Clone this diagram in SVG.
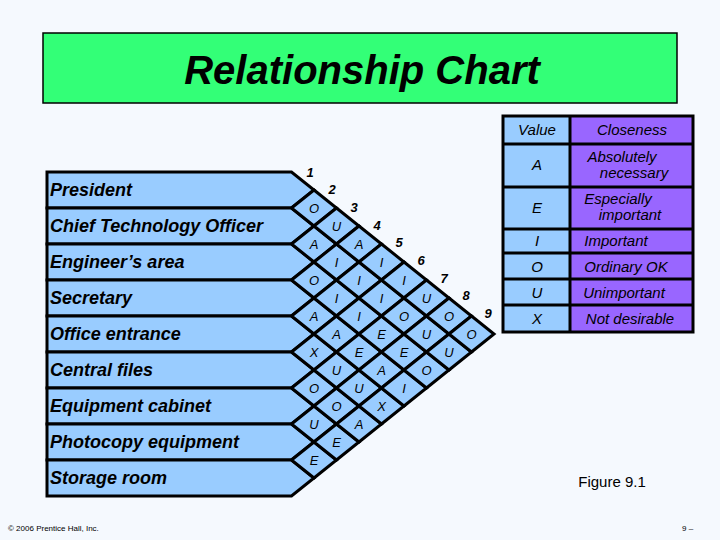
<svg xmlns="http://www.w3.org/2000/svg" width="720" height="540" viewBox="0 0 720 540">
<style>
.row{fill:#99ccff;stroke:#000;stroke-width:3;stroke-linejoin:miter}
.dm{fill:#99ccff;stroke:#000;stroke-width:3}
.rt{font-family:"Liberation Sans",Arial,sans-serif;font-weight:bold;font-style:italic;font-size:18px;fill:#000}
.lt{font-family:"Liberation Sans",Arial,sans-serif;font-style:italic;font-size:13px;fill:#000;text-anchor:middle}
.nt{font-family:"Liberation Sans",Arial,sans-serif;font-style:italic;font-weight:bold;font-size:13px;fill:#000;text-anchor:middle}
.lg{font-family:"Liberation Sans",Arial,sans-serif;font-style:italic;font-size:15px;fill:#000;text-anchor:middle}
</style>
<rect width="720" height="540" fill="#f5f9fe"/>
<g id="title">
<rect x="43" y="33" width="634" height="70" fill="#33ff77" stroke="#000" stroke-width="1.5"/>
<text x="362" y="84" text-anchor="middle" font-family="Liberation Sans,Arial,sans-serif" font-weight="bold" font-style="italic" font-size="40">Relationship Chart</text>
</g>
<g id="rows">
<g id="r0"><polygon class="row" points="47,172 291.5,172 314,190 291.5,208 47,208"/><text class="rt" x="50" y="196">President</text></g>
<g id="r1"><polygon class="row" points="47,208 291.5,208 314,226 291.5,244 47,244"/><text class="rt" x="50" y="232">Chief Technology Officer</text></g>
<g id="r2"><polygon class="row" points="47,244 291.5,244 314,262 291.5,280 47,280"/><text class="rt" x="50" y="268">Engineer’s area</text></g>
<g id="r3"><polygon class="row" points="47,280 291.5,280 314,298 291.5,316 47,316"/><text class="rt" x="50" y="304">Secretary</text></g>
<g id="r4"><polygon class="row" points="47,316 291.5,316 314,334 291.5,352 47,352"/><text class="rt" x="50" y="340">Office entrance</text></g>
<g id="r5"><polygon class="row" points="47,352 291.5,352 314,370 291.5,388 47,388"/><text class="rt" x="50" y="376">Central files</text></g>
<g id="r6"><polygon class="row" points="47,388 291.5,388 314,406 291.5,424 47,424"/><text class="rt" x="50" y="412">Equipment cabinet</text></g>
<g id="r7"><polygon class="row" points="47,424 291.5,424 314,442 291.5,460 47,460"/><text class="rt" x="50" y="448">Photocopy equipment</text></g>
<g id="r8"><polygon class="row" points="47,460 291.5,460 314,478 291.5,496 47,496"/><text class="rt" x="50" y="484">Storage room</text></g>
</g>
<g id="matrix">
<defs><polygon id="d" class="dm" points="-22.5,0 0,-18 22.5,0 0,18"/></defs>
<!-- col 1 -->
<use href="#d" x="314" y="208"/><text class="lt" x="314" y="213">O</text>
<use href="#d" x="314" y="244"/><text class="lt" x="314" y="249">A</text>
<use href="#d" x="314" y="280"/><text class="lt" x="314" y="285">O</text>
<use href="#d" x="314" y="316"/><text class="lt" x="314" y="321">A</text>
<use href="#d" x="314" y="352"/><text class="lt" x="314" y="357">X</text>
<use href="#d" x="314" y="388"/><text class="lt" x="314" y="393">O</text>
<use href="#d" x="314" y="424"/><text class="lt" x="314" y="429">U</text>
<use href="#d" x="314" y="460"/><text class="lt" x="314" y="465">E</text>
<!-- col 2 -->
<use href="#d" x="336.5" y="226"/><text class="lt" x="336.5" y="231">U</text>
<use href="#d" x="336.5" y="262"/><text class="lt" x="336.5" y="267">I</text>
<use href="#d" x="336.5" y="298"/><text class="lt" x="336.5" y="303">I</text>
<use href="#d" x="336.5" y="334"/><text class="lt" x="336.5" y="339">A</text>
<use href="#d" x="336.5" y="370"/><text class="lt" x="336.5" y="375">U</text>
<use href="#d" x="336.5" y="406"/><text class="lt" x="336.5" y="411">O</text>
<use href="#d" x="336.5" y="442"/><text class="lt" x="336.5" y="447">E</text>
<!-- col 3 -->
<use href="#d" x="359" y="244"/><text class="lt" x="359" y="249">A</text>
<use href="#d" x="359" y="280"/><text class="lt" x="359" y="285">I</text>
<use href="#d" x="359" y="316"/><text class="lt" x="359" y="321">I</text>
<use href="#d" x="359" y="352"/><text class="lt" x="359" y="357">E</text>
<use href="#d" x="359" y="388"/><text class="lt" x="359" y="393">U</text>
<use href="#d" x="359" y="424"/><text class="lt" x="359" y="429">A</text>
<!-- col 4 -->
<use href="#d" x="381.5" y="262"/><text class="lt" x="381.5" y="267">I</text>
<use href="#d" x="381.5" y="298"/><text class="lt" x="381.5" y="303">I</text>
<use href="#d" x="381.5" y="334"/><text class="lt" x="381.5" y="339">E</text>
<use href="#d" x="381.5" y="370"/><text class="lt" x="381.5" y="375">A</text>
<use href="#d" x="381.5" y="406"/><text class="lt" x="381.5" y="411">X</text>
<!-- col 5 -->
<use href="#d" x="404" y="280"/><text class="lt" x="404" y="285">I</text>
<use href="#d" x="404" y="316"/><text class="lt" x="404" y="321">O</text>
<use href="#d" x="404" y="352"/><text class="lt" x="404" y="357">E</text>
<use href="#d" x="404" y="388"/><text class="lt" x="404" y="393">I</text>
<!-- col 6 -->
<use href="#d" x="426.5" y="298"/><text class="lt" x="426.5" y="303">U</text>
<use href="#d" x="426.5" y="334"/><text class="lt" x="426.5" y="339">U</text>
<use href="#d" x="426.5" y="370"/><text class="lt" x="426.5" y="375">O</text>
<!-- col 7 -->
<use href="#d" x="449" y="316"/><text class="lt" x="449" y="321">O</text>
<use href="#d" x="449" y="352"/><text class="lt" x="449" y="357">U</text>
<!-- col 8 -->
<use href="#d" x="471.5" y="334"/><text class="lt" x="471.5" y="339">O</text>
</g>
<g id="numbers">
<text class="nt" x="310" y="177">1</text>
<text class="nt" x="332" y="194">2</text>
<text class="nt" x="354" y="212">3</text>
<text class="nt" x="377" y="230">4</text>
<text class="nt" x="399" y="247">5</text>
<text class="nt" x="421" y="265">6</text>
<text class="nt" x="444" y="283">7</text>
<text class="nt" x="466" y="300">8</text>
<text class="nt" x="488" y="318">9</text>
</g>
<g id="legend">
<rect x="503" y="116" width="67" height="216" fill="#99ccff"/>
<rect x="570" y="116" width="123" height="216" fill="#9966ff"/>
<g stroke="#000" stroke-width="3" fill="none">
<rect x="503" y="116" width="190" height="216"/>
<line x1="570" y1="116" x2="570" y2="332"/>
<line x1="503" y1="144" x2="693" y2="144"/>
<line x1="503" y1="187" x2="693" y2="187"/>
<line x1="503" y1="229" x2="693" y2="229"/>
<line x1="503" y1="253" x2="693" y2="253"/>
<line x1="503" y1="279" x2="693" y2="279"/>
<line x1="503" y1="305" x2="693" y2="305"/>
</g>
<text class="lg" x="537" y="135">Value</text><text class="lg" x="632" y="135">Closeness</text>
<text class="lg" x="537" y="170">A</text><text class="lg" x="622" y="162">Absolutely</text><text class="lg" x="634" y="178">necessary</text>
<text class="lg" x="537" y="213">E</text><text class="lg" x="618" y="204">Especially</text><text class="lg" x="630" y="220">important</text>
<text class="lg" x="537" y="246">I</text><text class="lg" x="616" y="246">Important</text>
<text class="lg" x="537" y="272">O</text><text class="lg" x="626" y="272">Ordinary OK</text>
<text class="lg" x="537" y="298">U</text><text class="lg" x="624" y="298">Unimportant</text>
<text class="lg" x="537" y="324">X</text><text class="lg" x="630" y="324">Not desirable</text>
</g>
<text x="612" y="487" text-anchor="middle" font-family="Liberation Sans,Arial,sans-serif" font-size="15">Figure 9.1</text>
<text x="8" y="531" font-family="Liberation Sans,Arial,sans-serif" font-size="8">© 2006 Prentice Hall, Inc.</text>
<text x="682" y="531" font-family="Liberation Sans,Arial,sans-serif" font-size="8">9 –</text>
</svg>
